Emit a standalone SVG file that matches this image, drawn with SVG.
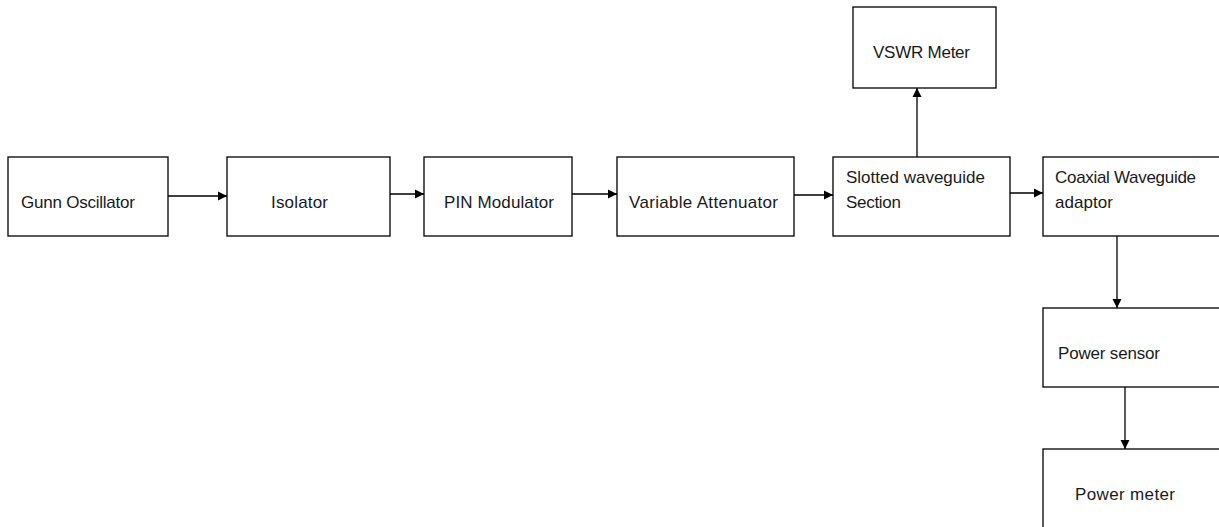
<svg xmlns="http://www.w3.org/2000/svg" width="1219" height="527" viewBox="0 0 1219 527">
  <style>
    .box { fill: #ffffff; stroke: #000000; stroke-width: 1.3; }
    .lbl { font-family: "Liberation Sans", Arial, sans-serif; font-size: 17px; fill: #1a1a1a; }
    .wire { stroke: #000000; stroke-width: 1.3; fill: none; marker-end: url(#head); }
  </style>
  <defs>
    <marker id="head" viewBox="0 0 10 10" refX="10" refY="5" markerWidth="9" markerHeight="10" markerUnits="userSpaceOnUse" orient="auto">
      <path d="M0,0 L10,5 L0,10 Z" fill="#000000"/>
    </marker>
  </defs>
  <rect width="1219" height="527" fill="#ffffff"/>

  <g id="gunn-oscillator">
    <rect class="box" x="8" y="157" width="160" height="79"/>
    <text class="lbl" x="21" y="208" textLength="114">Gunn Oscillator</text>
  </g>
  <g id="isolator">
    <rect class="box" x="227" y="157" width="163" height="79"/>
    <text class="lbl" x="271" y="208" textLength="57">Isolator</text>
  </g>
  <g id="pin-modulator">
    <rect class="box" x="424" y="157" width="148" height="79"/>
    <text class="lbl" x="444" y="208" textLength="110">PIN Modulator</text>
  </g>
  <g id="variable-attenuator">
    <rect class="box" x="617" y="157" width="177" height="79"/>
    <text class="lbl" x="629" y="208" textLength="149">Variable Attenuator</text>
  </g>
  <g id="slotted-waveguide">
    <rect class="box" x="833" y="157" width="177" height="79"/>
    <text class="lbl" x="846" y="183" textLength="139">Slotted waveguide</text>
    <text class="lbl" x="846" y="208" textLength="55">Section</text>
  </g>
  <g id="vswr-meter">
    <rect class="box" x="853" y="7" width="143" height="81"/>
    <text class="lbl" x="873" y="58" textLength="97">VSWR Meter</text>
  </g>
  <g id="coaxial-adaptor">
    <rect class="box" x="1043" y="157" width="190" height="79"/>
    <text class="lbl" x="1055" y="183" textLength="141">Coaxial Waveguide</text>
    <text class="lbl" x="1055" y="208" textLength="58">adaptor</text>
  </g>
  <g id="power-sensor">
    <rect class="box" x="1043" y="308" width="190" height="79"/>
    <text class="lbl" x="1058" y="359" textLength="102">Power sensor</text>
  </g>
  <g id="power-meter">
    <rect class="box" x="1043" y="449" width="190" height="100"/>
    <text class="lbl" x="1075" y="500" textLength="100">Power meter</text>
  </g>

  <g id="connectors">
    <line class="wire" x1="168" y1="196" x2="227" y2="196"/>
    <line class="wire" x1="390" y1="194" x2="424" y2="194"/>
    <line class="wire" x1="572" y1="194" x2="617" y2="194"/>
    <line class="wire" x1="794" y1="195" x2="833" y2="195"/>
    <line class="wire" x1="1010" y1="193" x2="1043" y2="193"/>
    <line class="wire" x1="917" y1="157" x2="917" y2="88"/>
    <line class="wire" x1="1117" y1="236" x2="1117" y2="308"/>
    <line class="wire" x1="1125" y1="387" x2="1125" y2="449"/>
  </g>
</svg>
